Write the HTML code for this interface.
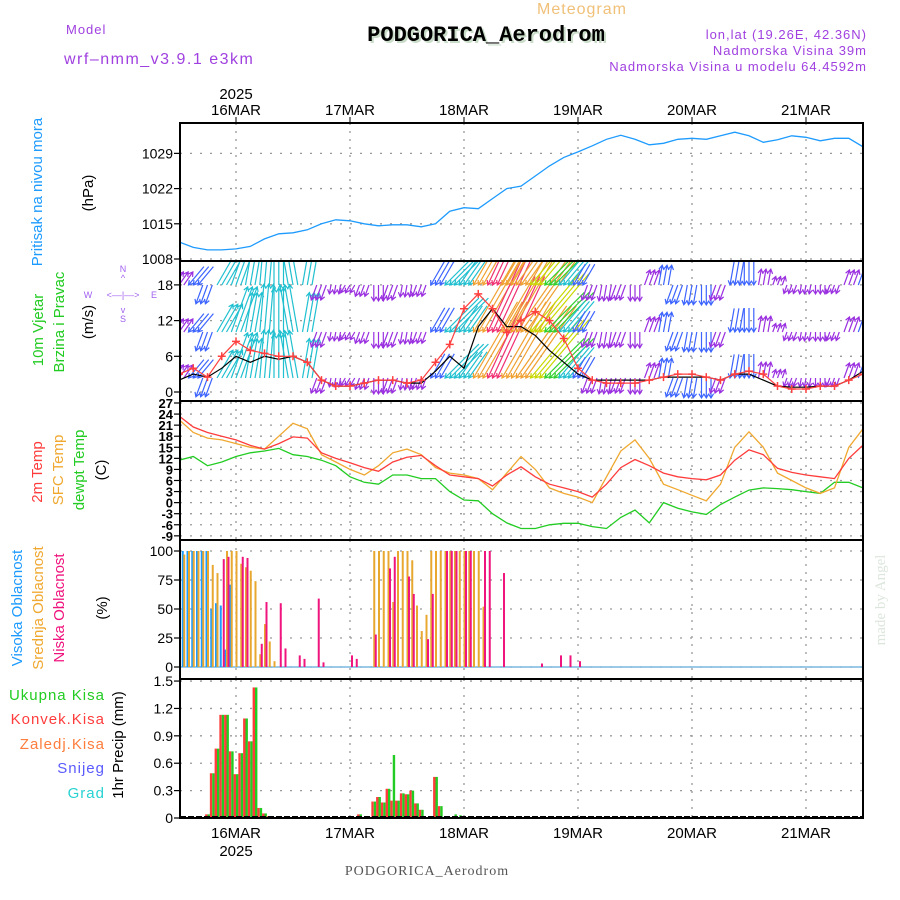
<!DOCTYPE html>
<html><head><meta charset="utf-8"><style>
html,body{margin:0;padding:0;background:#fff;}
svg{display:block;font-family:"Liberation Sans",sans-serif;}
</style></head><body>
<svg id="chart" width="900" height="900" viewBox="0 0 900 900" xmlns="http://www.w3.org/2000/svg">
<defs>
<clipPath id="cpP"><rect x="180" y="123" width="683" height="138"/></clipPath>
<clipPath id="cpW"><rect x="180" y="262" width="683" height="139"/></clipPath>
<clipPath id="cpT"><rect x="180" y="402" width="683" height="138"/></clipPath>
</defs>
<g>
<text x="582" y="14" font-size="16" fill="#f0c078" text-anchor="middle" letter-spacing="1">Meteogram</text>
<text x="488" y="43" font-size="22" font-weight="bold" font-family="Liberation Mono,monospace" fill="#c8dcc8" text-anchor="middle">PODGORICA_Aerodrom</text>
<text x="486" y="41" font-size="22" font-weight="bold" font-family="Liberation Mono,monospace" fill="#000" text-anchor="middle">PODGORICA_Aerodrom</text>
<text x="66" y="34" font-size="13" fill="#a040e0" letter-spacing="1">Model</text>
<text x="64" y="64" font-size="16" fill="#a040e0" letter-spacing="1.5">wrf‒nmm_v3.9.1 e3km</text>
<text x="867" y="39" font-size="13" fill="#a040e0" text-anchor="end" letter-spacing="1">lon,lat (19.26E, 42.36N)</text>
<text x="867" y="55" font-size="13" fill="#a040e0" text-anchor="end" letter-spacing="1">Nadmorska Visina 39m</text>
<text x="867" y="71" font-size="13" fill="#a040e0" text-anchor="end" letter-spacing="1">Nadmorska Visina u modelu 64.4592m</text>
</g>
<g font-size="15">
<text transform="translate(42,192) rotate(-90)" text-anchor="middle" fill="#1e9bff">Pritisak na nivou mora</text>
<text transform="translate(93,193) rotate(-90)" text-anchor="middle" fill="#000">(hPa)</text>
<text transform="translate(43,330) rotate(-90)" text-anchor="middle" fill="#22cc22">10m Vjetar</text>
<text transform="translate(64,322) rotate(-90)" text-anchor="middle" fill="#22cc22">Brzina i Pravac</text>
<text transform="translate(93,322) rotate(-90)" text-anchor="middle" fill="#000">(m/s)</text>
<g fill="#a060f0" font-size="9">
<text x="123" y="272" text-anchor="middle">N</text>
<text x="123" y="281" text-anchor="middle">^</text>
<text x="88" y="298" text-anchor="middle">W</text>
<text x="123" y="298" text-anchor="middle">&lt;‒‒|‒‒&gt;</text>
<text x="154" y="298" text-anchor="middle">E</text>
<text x="123" y="313" text-anchor="middle">v</text>
<text x="123" y="322" text-anchor="middle">S</text>
</g>
<text transform="translate(42,472) rotate(-90)" text-anchor="middle" fill="#ff3c3c">2m Temp</text>
<text transform="translate(63,470) rotate(-90)" text-anchor="middle" fill="#f0a830">SFC Temp</text>
<text transform="translate(84,470) rotate(-90)" text-anchor="middle" fill="#22cc22">dewpt Temp</text>
<text transform="translate(106,470) rotate(-90)" text-anchor="middle" fill="#000">(C)</text>
<text transform="translate(22,608) rotate(-90)" text-anchor="middle" fill="#1e9bff">Visoka Oblacnost</text>
<text transform="translate(43,608) rotate(-90)" text-anchor="middle" fill="#f0a830">Srednja Oblacnost</text>
<text transform="translate(64,608) rotate(-90)" text-anchor="middle" fill="#f0147e">Niska Oblacnost</text>
<text transform="translate(107,608) rotate(-90)" text-anchor="middle" fill="#000">(%)</text>
<text x="105" y="700" text-anchor="end" fill="#22cc22" letter-spacing="1">Ukupna  Kisa</text>
<text x="105" y="724" text-anchor="end" fill="#ff3c3c" letter-spacing="1">Konvek.Kisa</text>
<text x="105" y="749" text-anchor="end" fill="#ff7d3c" letter-spacing="1">Zaledj.Kisa</text>
<text x="105" y="773" text-anchor="end" fill="#5a5aff" letter-spacing="1">Snijeg</text>
<text x="105" y="798" text-anchor="end" fill="#28d2d2" letter-spacing="1">Grad</text>
<text transform="translate(123,745) rotate(-90)" text-anchor="middle" fill="#000">1hr Precip (mm)</text>
</g>
<text x="427" y="875" font-size="14" font-family="Liberation Serif,serif" fill="#555" text-anchor="middle" letter-spacing="1">PODGORICA_Aerodrom</text>
<text transform="translate(885,600) rotate(-90)" font-size="15" font-family="Liberation Serif,serif" fill="#dde6dd" text-anchor="middle">made by Angel</text>
<g id="plot"></g>
</svg>
<script>
// ---- data (3-hourly from 15MAR 12Z, h = -12 .. 132) ----
const dayLabels = ["16MAR","17MAR","18MAR","19MAR","20MAR","21MAR"];
const pressTicks = [1008,1015,1022,1029];
const windTicks = [0,6,12,18];
const tempTicks = [27,24,21,18,15,12,9,6,3,0,-3,-6,-9];
const cloudTicks = [0,25,50,75,100];
const precipTicks = [0,0.3,0.6,0.9,1.2,1.5];
const pressure = [1011.4,1010.3,1009.8,1009.8,1010,1010.5,1012,1013,1013.2,1013.8,1015,1015.8,1015.6,1015,1014.6,1014.8,1014.8,1014.4,1015,1017.5,1018.2,1018,1020,1022,1022.5,1024.5,1026.5,1028.2,1029.3,1030.5,1031.8,1032.6,1031.8,1030.7,1031,1031.8,1032,1031.8,1032.5,1033.2,1032.5,1031.2,1031.7,1032.5,1032.2,1031.5,1032,1032,1030.3];
const windGust = [3,4,2.5,6,8.5,7,6.5,6,6,5,2,1,1,1.5,2,2,1.5,2,5,8,14,16.5,14,10,12,13.5,12,9,4,2,1.5,1.5,1.5,2,2.5,3,3,2.5,2,3,3.5,3,1,0.5,0.5,1,1,2,3];
const windSpeed = [2,3,2.5,4,6,5,6,5.5,6,5,2,1,1,1.5,2,2,1.5,1.5,3.5,6,4,11,14,11,11,9.5,7,5,3,2,2,2,2,2,2.5,2.5,2.5,2.5,2,3,3,2,1,0.8,0.8,1,1,2,3.5];
const windDir = [35,220,200,30,20,10,5,0,350,10,200,190,210,200,180,200,190,200,210,225,215,210,205,210,215,220,225,220,210,200,190,200,180,20,10,200,190,180,200,190,180,10,20,200,190,180,200,20,20];
const temp2m = [23.5,20.5,19,18,17,15.5,14.5,16,17.8,17.5,13.5,12,10.8,9.5,8.5,11,12.3,12.8,10,7.5,7,6.5,4.5,7.5,9.7,7,5,4,3,1.5,5,9.5,11.7,10,8,7,6.5,6.2,7.5,11.5,14.3,13,9.3,8.2,7.5,7,6.5,12,15.6];
const tempSfc = [22.5,19,17.5,17,16,15,14.5,18,21.5,20,13,11,9,7.5,10,13.5,14.5,13,9.5,8,7.5,6.5,3.5,8,12.5,9,4,2.5,1.5,0,7,14,17,12,5,3.5,2,0.5,5,15,19.2,15,8,6,4,2.5,4,15,20];
const dewpt = [11.5,12.5,10,11,12.5,13.5,14,14.7,13,12.5,11.5,10,7,5.5,5,7.5,7.5,6.5,6.5,3,0.7,0.5,-3,-5.5,-7,-7,-6,-5.6,-5.6,-6.5,-7,-4,-2,-5.5,0,-1.5,-2.5,-3.2,-0.5,1.5,3.4,4,3.8,3.5,3,2.5,5.5,5.5,4];
// cloud cover (hour since 16MAR 00Z, percent)
const highHours = [-11,-10,-9,-8,-7,-6,-5,-4,-3,-2,-1];
const highVals = [100,100,100,100,100,100,50,55,53,15,71];
const midHours = [-11,-10,-9,-8,-7,-6,-5,-4,-2,-1,0,1,2,3,4,5,6,7,8,29,30,31,32,33,34,35,36,37,38,39,40,41,42,43,44,45,46,47,48,49,50,51,52];
const midVals = [97,100,100,100,100,100,88,81,100,100,100,89,86,83,74,11,37,22,5,100,100,100,100,56,100,100,100,92,53,31,45,100,100,100,100,100,100,100,100,100,100,100,52];
const lowHours = [-3,-2,1,2,5,6,9,10,13,14,17,18,24,25,29,32,33,36,37,40,41,44,45,46,48,49,52,53,56,64,68,70,72];
const lowVals = [93,95,95,94,20,56,55,16,10,7,59,4,10,7,28,85,95,78,63,24,63,100,100,100,100,100,100,100,81,3,10,10,5];
// precipitation (hour, mm)
const rainHours = [-6,-5,-4,-3,-2,-1,0,1,2,3,4,5,6,7,24,26,29,30,31,32,33,34,35,36,37,38,39,41,42,43,44,46,47];
const totalRain = [0.04,0.49,0.76,1.13,1.13,0.73,0.48,0.71,1.09,0.84,1.43,0.11,0.05,0.02,0.01,0.04,0.18,0.23,0.17,0.32,0.69,0.19,0.27,0.26,0.30,0.16,0.09,0.01,0.45,0.13,0.02,0.04,0.03];
const convRain = [0.04,0.49,0.76,1.13,1.13,0.73,0.48,0.71,1.09,0.84,1.43,0.11,0.05,0.02,0.01,0.04,0.18,0.23,0.17,0.32,0.19,0.19,0.27,0.26,0.30,0.16,0.09,0.01,0.45,0.13,0.00,0.00,0.00];

// ---- scales ----
const X0=180, X1=863;
function xh(h){ return 236 + h*4.75; }
function hOf(i){ return i*3 - 12; }
function yP(v){ return 259 - (v-1008)*5.03; }
function yW(v){ return 392 - v*5.95; }
function yT(v){ return 403 + (27-v)*3.69; }
function yC(v){ return 667 - v*1.16; }
function yR(v){ return 818 - v*91.3; }
const NS="http://www.w3.org/2000/svg";
const plot=document.getElementById('plot');
function mk(tag,attrs,parent){ const e=document.createElementNS(NS,tag); for(const k in attrs) e.setAttribute(k,attrs[k]); (parent||plot).appendChild(e); return e; }

// ---- panels: grid + axes ----
const panels=[[123,261,pressTicks,yP,'pressure'],[261,401,windTicks,yW,'wind'],[401,540,tempTicks,yT,'temp'],[540,679,cloudTicks,yC,'cloud'],[679,818,precipTicks,yR,'precip']];
const grid=mk('g',{});


panels.forEach(p=>{
  for(let d=0; d<dayLabels.length; d++){
    const gl=mk('line',{x1:xh(d*24),x2:xh(d*24),y1:p[0],y2:p[1],stroke:'#999','stroke-dasharray':'2,6','stroke-width':1.3},grid);
    
    
  }
  p[2].forEach(t=>{
    const y=p[3](t);
    const hl=mk('line',{x1:X0,x2:X1,y1:y,y2:y,stroke:'#999','stroke-dasharray':'2,8','stroke-width':1.3},grid);
    
    
    const tk=mk('line',{x1:X0-6,x2:X0,y1:y,y2:y,stroke:'#000','stroke-width':1.2},grid);
    
    
    const isT=p[4]==='temp';
    const lbl=mk('text',{x:X0-7,y:y+5,'text-anchor':'end','font-size':isT?13:14,'font-weight':isT?'bold':'normal',fill:'#000'},grid);
    lbl.textContent = (p[4]==='precip' && t!==0) ? t.toFixed(1) : String(t);
    
    
  });
});
// date labels
dayLabels.forEach((d,i)=>{
  const x=xh(i*24);
  const t=mk('text',{x:x,y:115,'text-anchor':'middle','font-size':15,fill:'#000'});
  t.textContent=d;
  
  
  const tk=mk('line',{x1:x,x2:x,y1:117,y2:123,stroke:'#000'});
  
  
  const b=mk('text',{x:x,y:838,'text-anchor':'middle','font-size':15,fill:'#000'});
  b.textContent=d;
  
  
});
const yr1=mk('text',{x:236,y:99,'text-anchor':'middle','font-size':15,fill:'#000'}); yr1.textContent='2025';


const yr2=mk('text',{x:236,y:856,'text-anchor':'middle','font-size':15,fill:'#000'}); yr2.textContent='2025';



function poly(arr,yf,color,name,parent,w){
  const pts=arr.map((v,i)=>xh(hOf(i)).toFixed(1)+','+yf(v).toFixed(1)).join(' ');
  const pl=mk('polyline',{points:pts,fill:'none',stroke:color,'stroke-width':w||1.3},parent);
  
  
  return pl;
}
// pressure
const gP=mk('g',{'clip-path':'url(#cpP)'});


poly(pressure,yP,'#1e9bff','pressure-line',gP);

// wind arrows
function wColor(s){ if(s<2.5) return '#9a30e0'; if(s<4) return '#3c64ff'; if(s<6.5) return '#20c0d0'; if(s<9) return '#30d030'; if(s<11) return '#c8d800'; if(s<13) return '#f0a030'; return '#f03070'; }
const gW=mk('g',{'clip-path':'url(#cpW)'});


const rows=[285,332,378];
windSpeed.forEach((s,i)=>{
  const rad=windDir[i]*Math.PI/180, L=Math.max(9,s*8);
  const dx=Math.sin(rad)*L, dy=-Math.cos(rad)*L;
  [-1,0,1].forEach(off=>{
    const bx=xh(hOf(i)+off);
    rows.forEach(by=>{
      let tx=bx,ty=by,hx=bx+dx,hy=by+dy;
      if(dy>0 && L>20){ tx=bx-dx; ty=by-dy; hx=bx; hy=by; }
      const ang=Math.atan2(hy-ty,hx-tx);
      const a1=ang+2.6,a2=ang-2.6;
      const d='M'+tx.toFixed(1)+','+ty.toFixed(1)+'L'+hx.toFixed(1)+','+hy.toFixed(1)+'M'+(hx+5*Math.cos(a1)).toFixed(1)+','+(hy+5*Math.sin(a1)).toFixed(1)+'L'+hx.toFixed(1)+','+hy.toFixed(1)+'L'+(hx+5*Math.cos(a2)).toFixed(1)+','+(hy+5*Math.sin(a2)).toFixed(1);
      const ar=mk('path',{d:d,stroke:wColor(s),'stroke-width':1.2,fill:'none'},gW);
      
      
    });
  });
});
poly(windSpeed,yW,'#000','wind-speed-line',gW,1.2);
poly(windGust,yW,'#ff4040','wind-gust-line',gW,1.2);
windGust.forEach((v,i)=>{
  const x=xh(hOf(i)), y=yW(v);
  const m=mk('path',{d:'M'+(x-4)+','+y+'h8M'+x+','+(y-4)+'v8',stroke:'#ff4040','stroke-width':1.5},gW);
  
  
});

// temperatures
const gT=mk('g',{'clip-path':'url(#cpT)'});


poly(dewpt,yT,'#22cc22','dewpoint-line',gT);
poly(tempSfc,yT,'#f0a830','sfc-temp-line',gT);
poly(temp2m,yT,'#ff3c3c','temp-2m-line',gT);

// clouds
const gC=mk('g',{});


const base=mk('line',{x1:X0,x2:X1,y1:yC(0),y2:yC(0),stroke:'#7ab8e0','stroke-width':1.5},gC);


function cbars(hours,vals,color,off,name){
  hours.forEach((h,i)=>{
    const r=mk('rect',{x:xh(h)+off,y:yC(vals[i]),width:2,height:yC(0)-yC(vals[i]),fill:color},gC);
    
    
  });
}
cbars(highHours,highVals,'#1e9bff',-2,'high-cloud-bar');
cbars(midHours,midVals,'#e8a830',-0.5,'mid-cloud-bar');
cbars(lowHours,lowVals,'#f0147e',1,'low-cloud-bar');

// precipitation
const gR=mk('g',{});


rainHours.forEach((h,i)=>{
  const x=xh(h);
  const rc=mk('rect',{x:x-2.4,y:yR(convRain[i]),width:2.4,height:yR(0)-yR(convRain[i]),fill:'#ff3c3c'},gR);
  
  
  const rt=mk('rect',{x:x,y:yR(totalRain[i]),width:2.4,height:yR(0)-yR(totalRain[i]),fill:'#22cc22'},gR);
  
  
});
const pb=mk('line',{x1:X0,x2:X1,y1:817,y2:817,stroke:'#000','stroke-width':2,'stroke-dasharray':'6,2'},gR);



// frames
panels.forEach(p=>{
  const fr=mk('rect',{x:X0,y:p[0],width:X1-X0,height:p[1]-p[0],fill:'none',stroke:'#000','stroke-width':2});
  
  
});
</script>
</body></html>
